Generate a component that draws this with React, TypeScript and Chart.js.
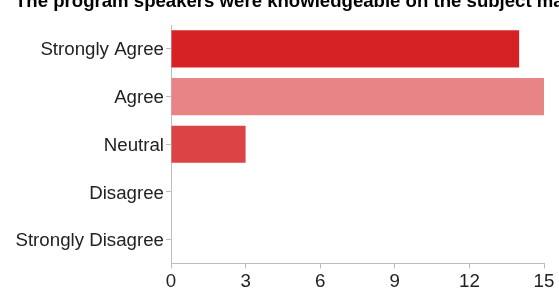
import React, { useEffect, useRef } from "react";
import { Chart, registerables } from "chart.js";

Chart.register(...registerables);

const titleText = "The program speakers were knowledgeable on the subject matter";
const categories = ["Strongly Agree", "Agree", "Neutral", "Disagree", "Strongly Disagree"];
const counts = [14, 15, 3, 0, 0];
const barColors = ["#D62224", "#E88485", "#DC4345", "#DC4345", "#DC4345"];
const xTicks = [0, 3, 6, 9, 12, 15];

const FONT = '"Liberation Sans", Arial, sans-serif';
const AXIS = "#BDBDBD";
const TEXT = "#222222";

const titlePlugin = {
  id: "clippedTitle",
  afterDraw(chart: any) {
    const ctx = chart.ctx;
    ctx.save();
    ctx.font = `bold 18.6px ${FONT}`;
    ctx.fillStyle = "#000000";
    ctx.textAlign = "left";
    ctx.textBaseline = "alphabetic";
    ctx.fillText(titleText, 15, 7);
    ctx.restore();
  },
};

export default function App() {
  const ref = useRef<HTMLCanvasElement | null>(null);

  useEffect(() => {
    if (!ref.current) return;
    const chart = new Chart(ref.current, {
      type: "bar",
      data: {
        labels: categories,
        datasets: [
          {
            data: counts,
            backgroundColor: barColors,
            borderWidth: 0,
            barPercentage: 0.78,
            categoryPercentage: 1,
          },
        ],
      },
      options: {
        indexAxis: "y",
        responsive: false,
        animation: false,
        layout: { padding: { top: 25, right: 15, left: 0, bottom: 0 } },
        plugins: {
          legend: { display: false },
          title: { display: false },
          tooltip: { enabled: false },
        },
        scales: {
          x: {
            min: 0,
            max: 15,
            afterBuildTicks(scale: any) {
              scale.ticks = xTicks.map((v) => ({ value: v }));
            },
            afterFit(scale: any) {
              scale.height = 24.5;
            },
            grid: {
              display: true,
              drawOnChartArea: false,
              drawTicks: true,
              tickLength: 5,
              color: AXIS,
            },
            border: { display: true, color: AXIS, width: 1 },
            ticks: {
              padding: 2,
              color: TEXT,
              font: { family: FONT, size: 18.7 },
              maxRotation: 0,
            },
          },
          y: {
            afterFit(scale: any) {
              scale.width = 171;
            },
            grid: {
              display: true,
              offset: false,
              drawOnChartArea: false,
              drawTicks: true,
              tickLength: 5,
              color: AXIS,
            },
            border: { display: true, color: AXIS, width: 1 },
            ticks: {
              padding: 2,
              labelOffset: 1.5,
              color: TEXT,
              font: { family: FONT, size: 18.7 },
            },
          },
        },
      },
      plugins: [titlePlugin],
    } as any);
    return () => chart.destroy();
  }, []);

  return (
    <div style={{ position: "absolute", left: 0, top: 0, width: 559, height: 288, background: "#fff" }}>
      <canvas ref={ref} width={559} height={288} style={{ display: "block" }} />
    </div>
  );
}
